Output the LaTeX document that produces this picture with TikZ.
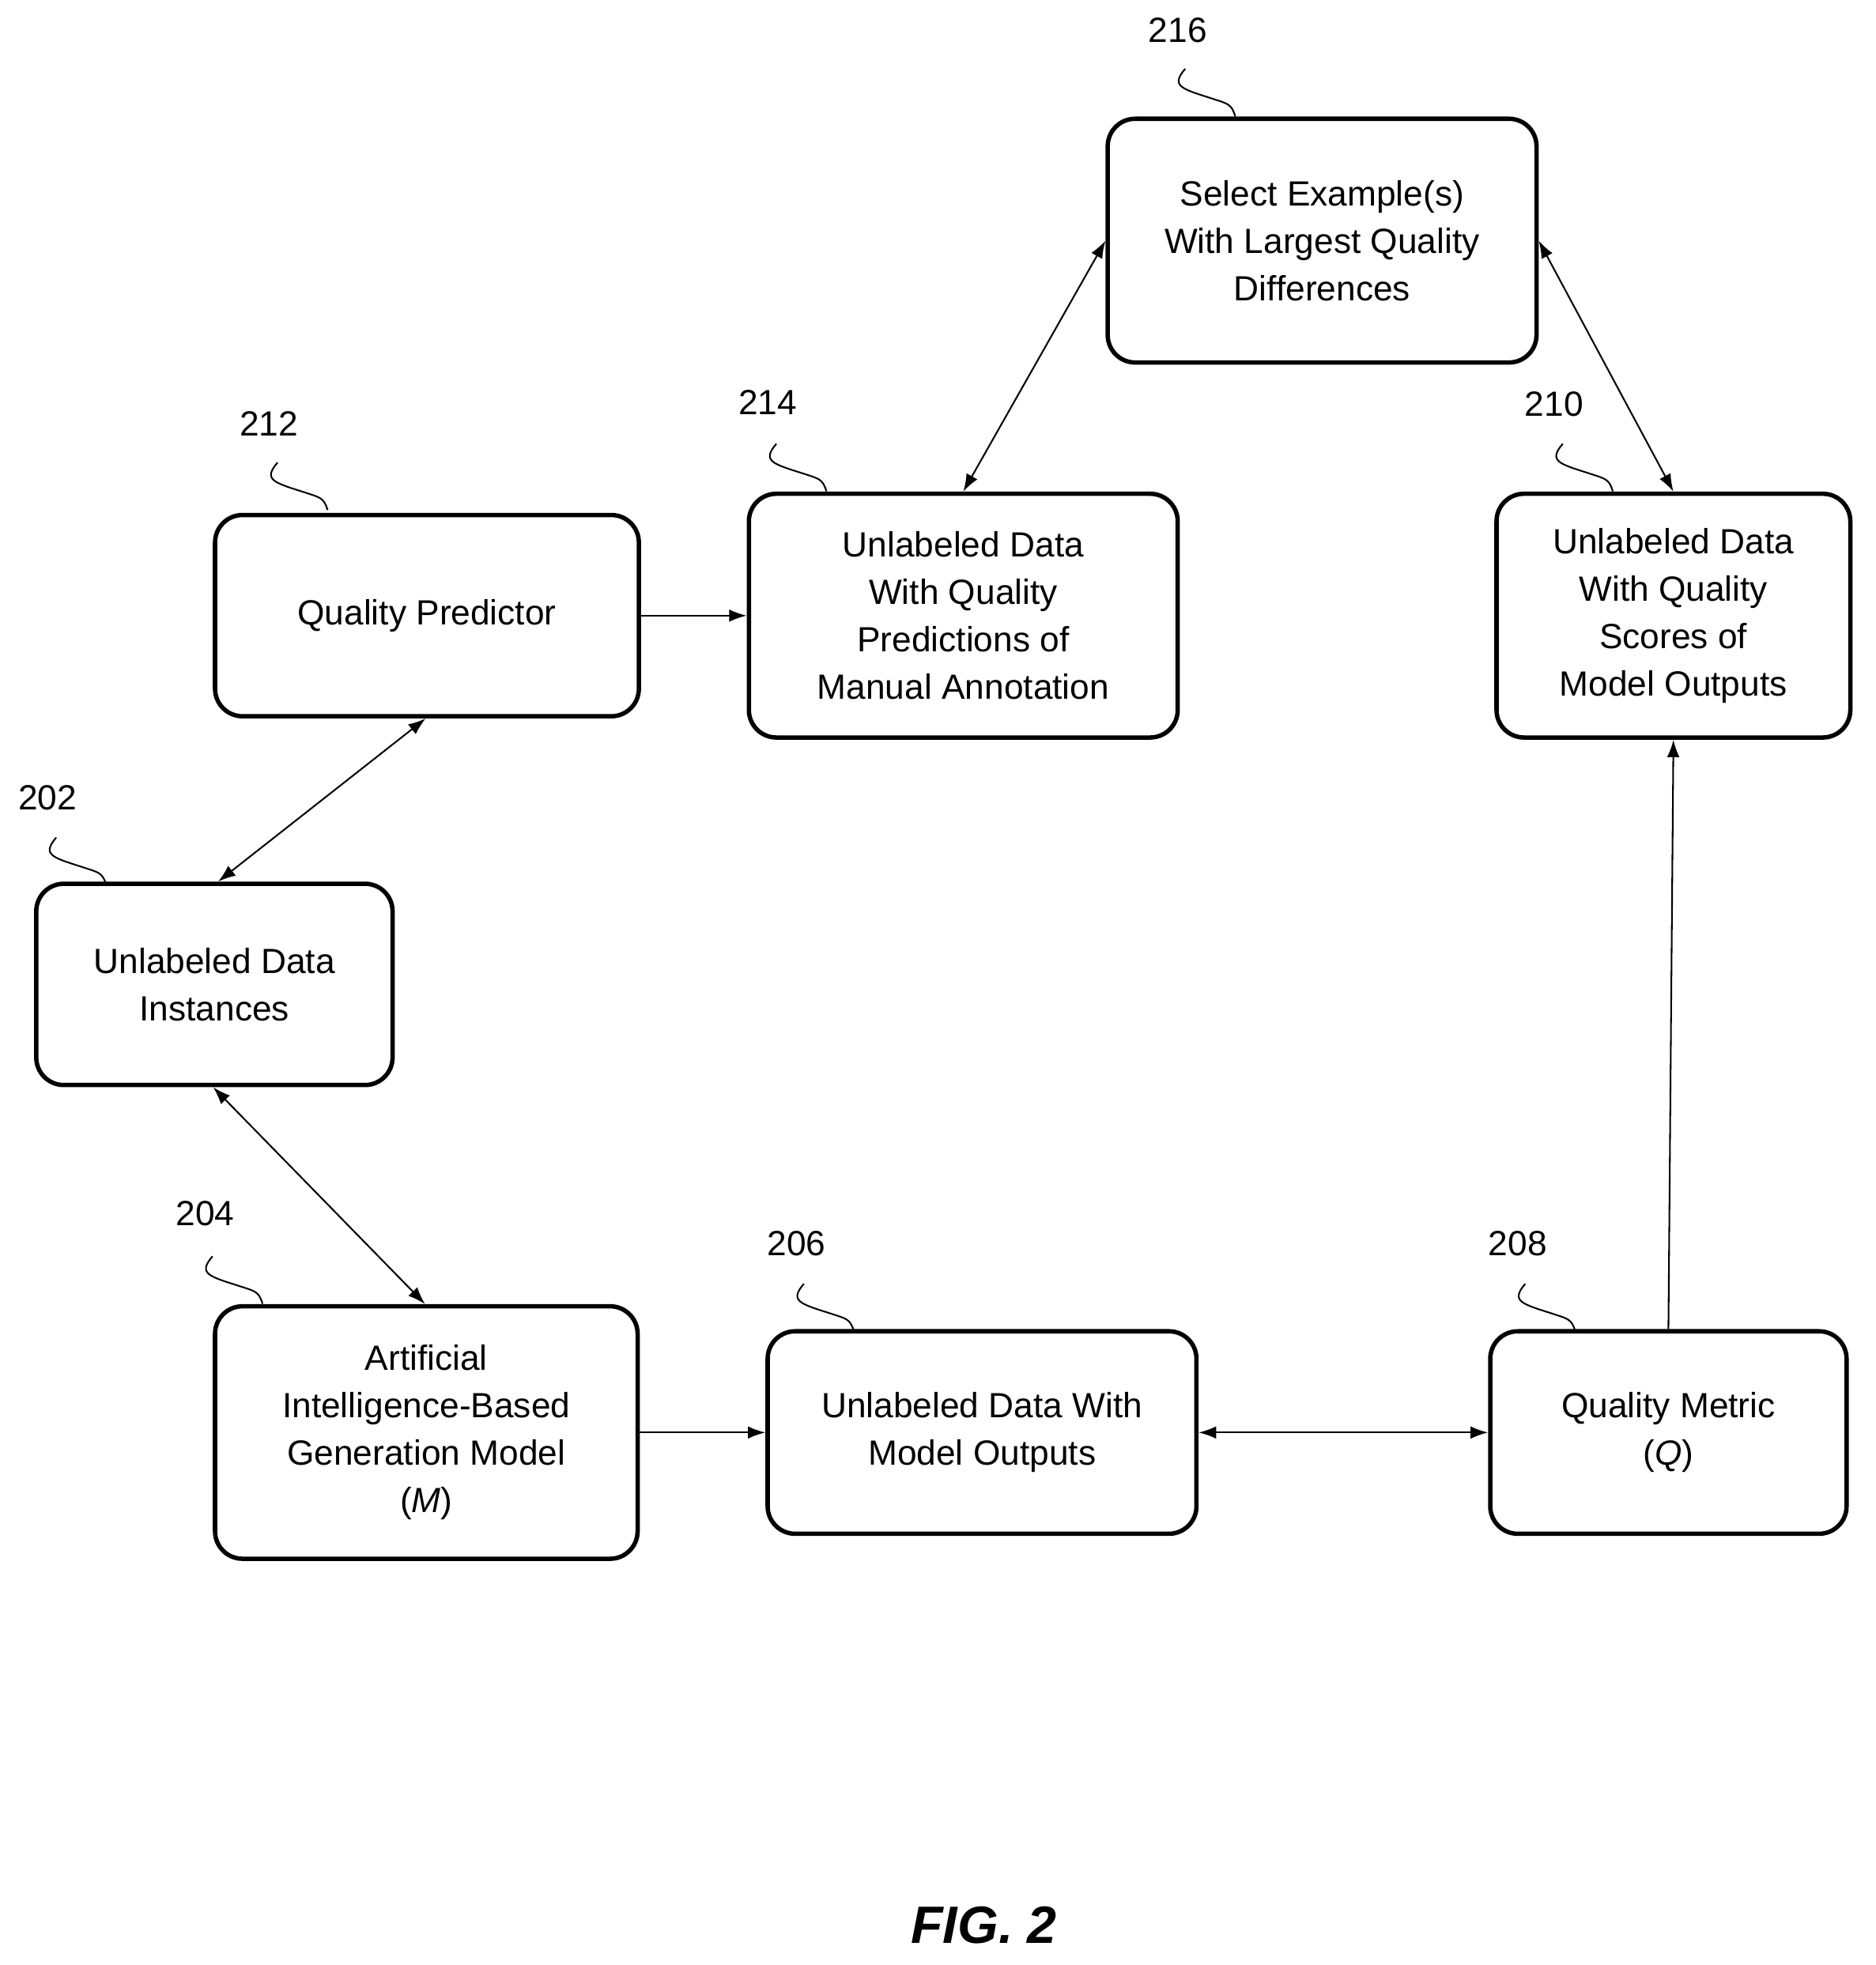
\documentclass[tikz,border=0pt]{standalone}
\usepackage{fontspec}
\setmainfont{Liberation Sans}
\usetikzlibrary{arrows.meta}
\begin{document}
\begin{tikzpicture}[x=1pt,y=1pt,
  box/.style={draw,line width=3.5pt,rounded corners=22pt,align=center,inner sep=0pt,font=\fontsize{28}{38}\selectfont},
  lab/.style={font=\fontsize{28}{32}\selectfont},
  lead/.style={line width=1.3pt},
  arr/.style={line width=1.3pt,-{Latex[length=14pt,width=10pt]}},
  darr/.style={line width=1.3pt,{Latex[length=14pt,width=10pt]}-{Latex[length=14pt,width=10pt]}}]
\useasboundingbox (0,0) rectangle (1500,-1572);
\newcommand{\bx}[7]{\node[box,minimum width=#4,minimum height=#5] (#1) at (#2,-#3) {#6};}
\bx{b216}{1057.5}{192.5}{343}{195}{}{}
\node[align=center,font=\fontsize{28}{38}\selectfont] at (b216) {Select Example(s)\\With Largest Quality\\Differences};
\bx{b212}{341.5}{492.5}{339}{161}{Quality Predictor}{}
\bx{b214}{770.5}{492.5}{343}{195}{Unlabeled Data\\With Quality\\Predictions of\\Manual Annotation}{}
\bx{b210}{1338.5}{492.5}{283}{195}{Unlabeled Data\\With Quality\\Scores of\\Model Outputs}{}
\bx{b202}{171.5}{787.5}{285}{161}{Unlabeled Data\\Instances}{}
\bx{b204}{341}{1146}{338}{202}{Artificial\\Intelligence-Based\\Generation Model\\(\textit{M})}{}
\bx{b206}{785.5}{1146}{343}{162}{Unlabeled Data With\\Model Outputs}{}
\bx{b208}{1334.5}{1146}{285}{162}{Quality Metric\\(\textit{Q})}{}
% labels
\node[lab] (l216) at (942,-24) {216};
\node[lab] (l212) at (215,-339) {212};
\node[lab] (l214) at (614,-322) {214};
\node[lab] (l210) at (1243,-323) {210};
\node[lab] (l202) at (38,-638) {202};
\node[lab] (l204) at (164,-971) {204};
\node[lab] (l206) at (637,-995) {206};
\node[lab] (l208) at (1214,-995) {208};
\newcommand{\ld}[4]{\coordinate (s#1) at (#2,-#3); \coordinate (e#1) at ([xshift=40pt,yshift=-38pt]s#1);
\draw[lead] (s#1) .. controls ++(-12,-14) and ++(-25,8) .. ([xshift=22pt,yshift=-24pt]s#1) .. controls ++(12,-4) and ++(-3,10) .. (e#1);}
\ld{216}{948}{55}{}
\ld{212}{222}{370}{}
\ld{214}{621}{355}{}
\ld{210}{1250}{355}{}
\ld{202}{45}{670}{}
\ld{204}{170}{1005}{}
\ld{206}{643}{1027}{}
\ld{208}{1220}{1027}{}
% arrows
\draw[arr] (b212.east) -- (b214.west);
\draw[darr] ([xshift=-1pt]b212.south) -- ([xshift=3pt]b202.north);
\draw[darr] ([xshift=-1pt]b202.south) -- ([xshift=-1pt]b204.north);
\draw[arr] (b204.east) -- (b206.west);
\draw[darr] (b206.east) -- (b208.west);
\draw[arr] (b208.north) -- (b210.south);
\draw[darr] (b214.north) -- (b216.west);
\draw[darr] (b216.east) -- (b210.north);
\node[font=\fontsize{42}{48}\selectfont\bfseries\itshape] (fig) at (787,-1540) {FIG. 2};
\end{tikzpicture}
\end{document}
